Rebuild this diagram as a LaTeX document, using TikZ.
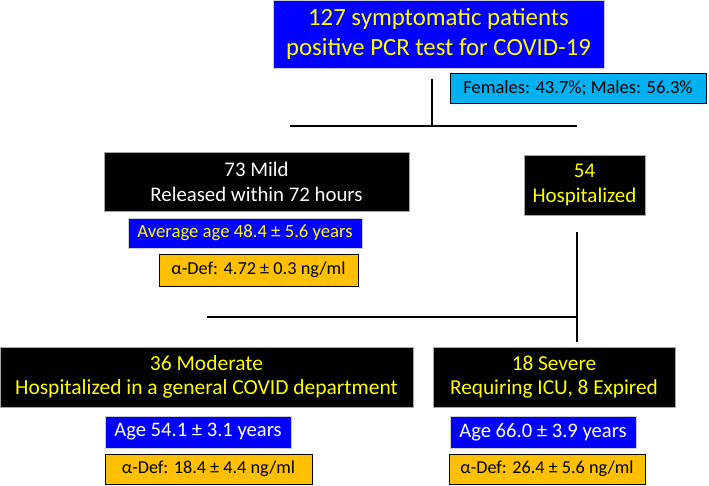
\documentclass[tikz,border=0pt]{standalone}
\usepackage{fontspec}
\setmainfont{Carlito}
\definecolor{pblue}{RGB}{0,0,255}
\definecolor{pyellow}{RGB}{255,255,0}
\definecolor{lblue}{RGB}{0,176,240}
\definecolor{porange}{RGB}{255,192,0}
\tikzset{
  box/.style={inner sep=0pt, align=center, minimum width=#1},
  blackbox/.style={box=#1, fill=black, draw=gray!70, line width=0.6pt},
  bluebox/.style={box=#1, fill=pblue, draw=gray!40, line width=0.6pt, text=pyellow},
  orbox/.style={box=#1, fill=porange, draw=black, line width=0.8pt, text=black},
  conn/.style={line width=1.6pt, black},
  fs/.style={font=\fontsize{#1}{1.22*#1}\selectfont},
}
\begin{document}
\begin{tikzpicture}[x=1pt,y=-1pt]
\useasboundingbox (0,0) rectangle (709,485);
% top
\node[bluebox=331pt, minimum height=68pt, font=\fontsize{24.8}{30}\selectfont] (top) at (438.5,34) {127 symptomatic patients\\positive PCR test for COVID-19};
\node[box=256pt, minimum height=30pt, fill=lblue, draw=black, line width=0.8pt, font=\fontsize{18.5}{22}\selectfont] (sex) at (578,88) {Females: 43.7\%; Males: 56.3\%};
% mild
\node[blackbox=305pt, minimum height=59pt, text=white, font=\fontsize{20.8}{25}\selectfont] (mild) at (256.5,181.5) {73 Mild\\Released within 72 hours};
\node[bluebox=234pt, minimum height=30pt, font=\fontsize{18.7}{22}\selectfont] (agem) at (245,233) {Average age 48.4 ± 5.6 years};
\node[orbox=199pt, minimum height=32pt, font=\fontsize{18.3}{22}\selectfont] (defm) at (258.5,270) {α-Def: 4.72 ± 0.3 ng/ml};
% hospitalized
\node[blackbox=121pt, minimum height=60pt, text=pyellow, font=\fontsize{21}{25}\selectfont] (hosp) at (584.5,185) {54\\Hospitalized};
% moderate
\node[blackbox=413pt, minimum height=60pt, text=pyellow, font=\fontsize{21.5}{24}\selectfont] (mod) at (206.5,377) {36 Moderate\\Hospitalized in a general COVID department};
\node[bluebox=186pt, minimum height=32pt, text=white, font=\fontsize{20.6}{24}\selectfont] (agemod) at (198,432) {Age 54.1 ± 3.1 years};
\node[orbox=207pt, minimum height=30pt, font=\fontsize{18.2}{22}\selectfont] (defmod) at (208.5,469) {α-Def: 18.4 ± 4.4 ng/ml};
% severe
\node[blackbox=242pt, minimum height=60pt, text=pyellow, font=\fontsize{21.3}{24}\selectfont] (sev) at (554,377) {18 Severe\\Requiring ICU, 8 Expired};
\node[bluebox=186pt, minimum height=32pt, text=white, font=\fontsize{20.6}{24}\selectfont] (agesev) at (543,432) {Age 66.0 ± 3.9 years};
\node[orbox=196pt, minimum height=30pt, font=\fontsize{18.2}{22}\selectfont] (defsev) at (547,469) {α-Def: 26.4 ± 5.6 ng/ml};
% connectors
\coordinate (t1) at (432,79);
\coordinate (t2) at (432,126);
\coordinate (tl) at (290,126);
\coordinate (tr) at (577,126);
\draw[conn] (t1) -- (t2);
\draw[conn] (tl) -- (tr);
\coordinate (h1) at (577,232);
\coordinate (h2) at (577,342);
\coordinate (hl) at (207,317);
\coordinate (hr) at (577,317);
\draw[conn] (h1) -- (h2);
\draw[conn] (hl) -- (hr);
\end{tikzpicture}
\end{document}
